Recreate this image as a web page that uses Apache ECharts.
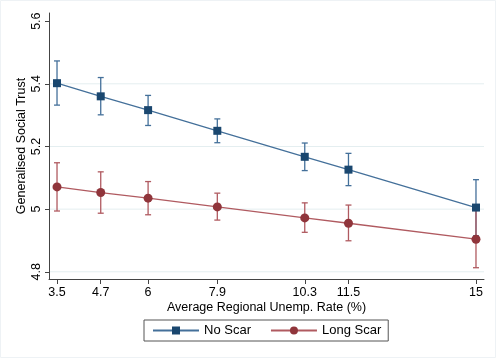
<!DOCTYPE html>
<html><head><meta charset="utf-8">
<script src="https://cdn.jsdelivr.net/npm/echarts@6/dist/echarts.min.js"></script>
<style>html,body{margin:0;padding:0;background:#fff}#c{width:497px;height:361px}</style>
</head><body><div id="c"></div>
<script>
var xTicks = [3.5, 4.7, 6, 7.9, 10.3, 11.5, 15];
var yTicks = [4.8, 5, 5.2, 5.4, 5.6];
var gridTicks = [4.8, 5, 5.2, 5.4];
var noScar   = [5.402, 5.360, 5.316, 5.250, 5.167, 5.126, 5.005];
var noScarLo = [5.332, 5.301, 5.267, 5.212, 5.123, 5.075, 4.915];
var noScarHi = [5.473, 5.420, 5.363, 5.288, 5.211, 5.178, 5.094];
var longScar   = [5.071, 5.053, 5.035, 5.007, 4.972, 4.955, 4.904];
var longScarLo = [4.994, 4.987, 4.982, 4.965, 4.926, 4.899, 4.813];
var longScarHi = [5.148, 5.119, 5.088, 5.051, 5.020, 5.013, 4.996];

var FONT = 'Liberation Sans';
var navy = '#1a476f', navyLine = '#44709a';
var maroon = '#90353b', maroonLine = '#b05a60';

function pairs(v){ return xTicks.map(function(x,i){ return [x, v[i]]; }); }
function ci(lo, hi){ return xTicks.map(function(x,i){ return [x, lo[i], hi[i]]; }); }
function errRender(color){
  return function(params, api){
    var p1 = api.coord([api.value(0), api.value(1)]);
    var p2 = api.coord([api.value(0), api.value(2)]);
    var w = 3;
    var st = {stroke: color, lineWidth: 1.3};
    return {type:'group', children:[
      {type:'line', shape:{x1:p1[0],y1:p1[1],x2:p2[0],y2:p2[1]}, style:st},
      {type:'line', shape:{x1:p1[0]-w,y1:p1[1],x2:p1[0]+w,y2:p1[1]}, style:st},
      {type:'line', shape:{x1:p2[0]-w,y1:p2[1],x2:p2[0]+w,y2:p2[1]}, style:st}
    ]};
  };
}
function gridRender(params, api){
  var cs = params.coordSys;
  var y = api.coord([cs.x, api.value(0)])[1];
  return {type:'line', shape:{x1:cs.x+1, y1:y, x2:cs.x+cs.width, y2:y},
    style:{stroke:'#e4eef0', lineWidth:1}, silent:true};
}

var chart = echarts.init(document.getElementById('c'), null, {renderer:'canvas'});
chart.setOption({
  animation:false,
  backgroundColor:'#fff',
  textStyle:{fontFamily:FONT},
  graphic:[{type:'rect', shape:{x:0.5,y:0.5,width:495,height:357}, style:{fill:'none', stroke:'#eef2f5', lineWidth:1}, silent:true, z:-1}],
  grid:{left:49, right:13, top:13, bottom:82},
  xAxis:{
    type:'value', min:3.28, max:15.22,
    name:'Average Regional Unemp. Rate (%)', nameLocation:'middle', nameGap:22, nameMoveOverlap:false,
    nameTextStyle:{color:'#000', fontSize:12.5, fontFamily:FONT},
    axisLine:{show:true, onZero:false, lineStyle:{color:'#444', width:1}},
    axisTick:{show:true, length:5, lineStyle:{color:'#444'}, customValues:xTicks},
    axisLabel:{color:'#000', fontSize:12.5, fontFamily:FONT, margin:7, customValues:xTicks,
      formatter:function(v){ return String(v); }},
    splitLine:{show:false}
  },
  yAxis:{
    type:'value', min:4.777, max:5.626,
    name:'Generalised Social Trust', nameLocation:'middle', nameGap:21, nameMoveOverlap:false,
    nameTextStyle:{color:'#000', fontSize:12.5, fontFamily:FONT},
    axisLine:{show:true, onZero:false, lineStyle:{color:'#444', width:1}},
    axisTick:{show:true, length:4, lineStyle:{color:'#444'}, customValues:yTicks},
    axisLabel:{color:'#000', fontSize:12.5, fontFamily:FONT, rotate:90, margin:6, customValues:yTicks,
      formatter:function(v){ return String(v); }},
    splitLine:{show:false}
  },
  legend:{
    left:144, top:320, height:20,
    padding:[4,7,4,8],
    borderColor:'#555', borderWidth:1, backgroundColor:'#fff',
    itemWidth:46, itemHeight:10, itemGap:19,
    textStyle:{color:'#000', fontSize:13, fontFamily:FONT},
    data:['No Scar','Long Scar']
  },
  series:[
    {type:'custom', name:'gridlines', renderItem:gridRender, data:gridTicks.map(function(t){return [t];}),
      encode:{y:0}, silent:true, z:0},
    {type:'custom', name:'ciNo', renderItem:errRender(navyLine), data:ci(noScarLo, noScarHi),
      encode:{x:0, y:[1,2]}, z:2},
    {type:'custom', name:'ciLong', renderItem:errRender(maroonLine), data:ci(longScarLo, longScarHi),
      encode:{x:0, y:[1,2]}, z:2},
    {type:'line', name:'No Scar', data:pairs(noScar), symbol:'rect', symbolSize:8,
      itemStyle:{color:navy}, lineStyle:{color:navyLine, width:1.3}, z:3},
    {type:'line', name:'Long Scar', data:pairs(longScar), symbol:'circle', symbolSize:9,
      itemStyle:{color:maroon}, lineStyle:{color:maroonLine, width:1.3}, z:3}
  ]
});
</script></body></html>
